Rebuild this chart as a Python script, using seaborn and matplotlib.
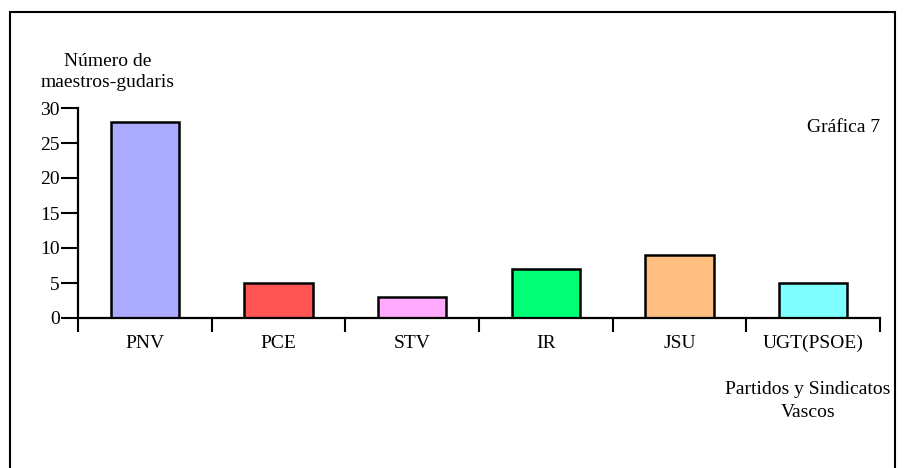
import matplotlib
matplotlib.use("Agg")
import matplotlib.pyplot as plt
import numpy as np
import pandas as pd
import seaborn as sns
from matplotlib.patches import Rectangle

# Data
partidos = ["PNV", "PCE", "STV", "IR", "JSU", "UGT(PSOE)"]
maestros = [28, 5, 3, 7, 9, 5]
colores = ["#aaaaff", "#ff5555", "#ffaaff", "#00ff77", "#ffbf80", "#80ffff"]
y_ticks = [0, 5, 10, 15, 20, 25, 30]

sns.set_theme(style="white")
plt.rcParams["font.family"] = ["Liberation Serif", "DejaVu Serif"]
plt.rcParams["text.color"] = "black"
plt.rcParams["xtick.color"] = "black"
plt.rcParams["ytick.color"] = "black"
FS = 14

df = pd.DataFrame({"partido": partidos, "n": maestros})

fig = plt.figure(figsize=(9.05, 4.68), dpi=100)
ax = fig.add_axes([78 / 905, 1 - 318 / 468, 802 / 905, 210 / 468])

sns.barplot(data=df, x="partido", y="n", hue="partido", palette=colores,
            order=partidos, hue_order=partidos, legend=False, width=0.51,
            edgecolor="black", linewidth=1.8, saturation=1, ax=ax)

ax.set_xlim(-0.5, len(partidos) - 0.5)
ax.set_ylim(0, 30)
ax.set_xlabel("")
ax.set_ylabel("")

# Category boundaries as major ticks, labels as minor ticks
ax.set_xticks(np.arange(-0.5, len(partidos), 1.0))
ax.set_xticklabels([])
ax.set_xticks(np.arange(len(partidos)), minor=True)
ax.set_xticklabels(partidos, minor=True, fontsize=FS)
ax.tick_params(axis="x", which="major", direction="out", length=10, width=1.5,
               bottom=True, color="black")
ax.tick_params(axis="x", which="minor", length=0, pad=12)

ax.set_yticks(y_ticks)
ax.set_yticklabels([str(t) for t in y_ticks], fontsize=FS)
ax.tick_params(axis="y", direction="out", length=12, width=1.5, left=True,
               color="black", pad=1)

for s in ["top", "right"]:
    ax.spines[s].set_visible(False)
for s in ["left", "bottom"]:
    ax.spines[s].set_color("black")
    ax.spines[s].set_linewidth(1.6)
ax.set_facecolor("none")

# Texts
fig.text(108 / 905, 1 - 72 / 468, "Número de\nmaestros-gudaris", ha="center",
         va="center", fontsize=FS, linespacing=1.35)
fig.text(880 / 905, 1 - 128 / 468, "Gráfica 7", ha="right", va="center",
         fontsize=FS)
fig.text(808 / 905, 1 - 401 / 468, "Partidos y Sindicatos\nVascos",
         ha="center", va="center", fontsize=FS, linespacing=1.45)

# Outer frame
fig.patches.append(Rectangle((10 / 905, -0.05), 885 / 905, 1.05 - 12 / 468,
                             transform=fig.transFigure, fill=False,
                             edgecolor="black", linewidth=1.5))

fig.savefig("out.png", dpi=100)
